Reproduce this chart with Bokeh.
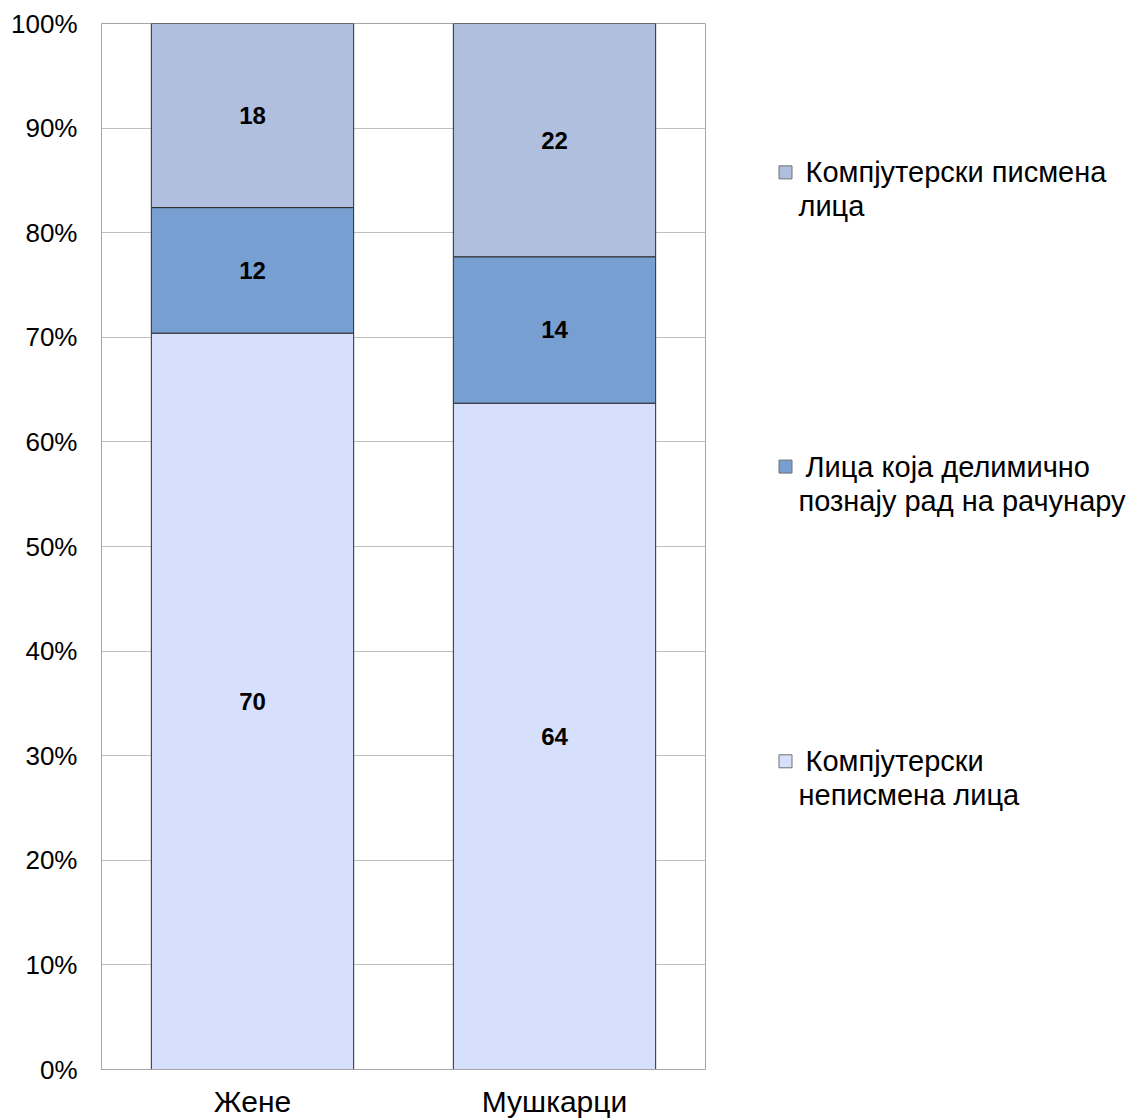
from bokeh.plotting import figure
from bokeh.layouts import row
from bokeh.models import ColumnDataSource, FactorRange, Range1d, FixedTicker, PrintfTickFormatter
from bokeh.core.properties import value
from bokeh.embed import file_html
from bokeh.resources import INLINE

# ---- data ----
categories = ["Жене", "Мушкарци"]
series_keys = ["illiterate", "partial", "literate"]
series_labels = [
    ["Компјутерски", "неписмена лица"],
    ["Лица која делимично", "познају рад на рачунару"],
    ["Компјутерски писмена", "лица"],
]
illiterate = [70.4, 63.7]
partial = [12.0, 14.0]
literate = [17.6, 22.3]
y_ticks = [0, 10, 20, 30, 40, 50, 60, 70, 80, 90, 100]

colors = ["#D6DFFC", "#789FD1", "#B0BFDD"]
FONT = "Liberation Sans"
W, H = 1136, 1120
MAIN_W = 707
TOP, BOTTOM = 23, 50

src = ColumnDataSource(dict(cat=categories, illiterate=illiterate, partial=partial, literate=literate))

p = figure(
    x_range=FactorRange(*categories, range_padding=0),
    y_range=Range1d(0, 100),
    width=MAIN_W, height=H,
    output_backend="svg", toolbar_location=None,
    min_border_left=101, min_border_right=2, min_border_top=TOP, min_border_bottom=BOTTOM,
)
p.background_fill_color = "white"
p.border_fill_color = "white"
p.outline_line_color = "#a6a6a6"

p.vbar_stack(series_keys, x="cat", width=0.67, source=src, color=colors,
             line_color="#2b2b2b", line_width=1)

# segment value labels
lx, ly, lt = [], [], []
for i, c in enumerate(categories):
    base = 0.0
    for arr in (illiterate, partial, literate):
        v = arr[i]
        lx.append(c)
        ly.append(base + v / 2)
        lt.append(f"{v:.0f}")
        base += v
p.text(x=lx, y=ly, text=lt, text_align="center", text_baseline="middle",
       text_font=value(FONT), text_font_size="24px", text_font_style="bold", text_color="black")

# axes
p.yaxis.ticker = FixedTicker(ticks=y_ticks)
p.yaxis.formatter = PrintfTickFormatter(format="%d%%")
p.yaxis.major_label_text_font = FONT
p.yaxis.major_label_text_font_size = "26px"
p.yaxis.major_label_text_color = "black"
p.yaxis.major_label_standoff = 24
p.yaxis.major_tick_out = 0
p.yaxis.major_tick_in = 0
p.yaxis.minor_tick_out = 0
p.yaxis.minor_tick_in = 0
p.yaxis.major_tick_line_color = None
p.yaxis.minor_tick_line_color = None
p.yaxis.axis_line_color = "#a6a6a6"

p.xaxis.major_label_text_font = FONT
p.xaxis.major_label_text_font_size = "30px"
p.xaxis.major_label_text_color = "black"
p.xaxis.major_label_standoff = 15
p.xaxis.major_tick_out = 0
p.xaxis.major_tick_in = 0
p.xaxis.major_tick_line_color = None
p.xaxis.axis_line_color = "#a6a6a6"

p.xgrid.grid_line_color = None
p.ygrid.grid_line_color = "#c0c0c0"
p.ygrid.grid_line_width = 1

# ---- legend panel (separate figure, page-pixel coordinates) ----
leg = figure(width=W - MAIN_W, height=H,
             x_range=Range1d(MAIN_W, W), y_range=Range1d(H - BOTTOM, TOP),
             x_axis_type=None, y_axis_type=None, output_backend="svg",
             toolbar_location=None, min_border_left=0, min_border_right=0,
             min_border_top=TOP, min_border_bottom=BOTTOM)
leg.grid.visible = False
leg.outline_line_color = None
leg.background_fill_color = "white"
leg.border_fill_color = "white"

order = [2, 1, 0]                 # top to bottom: literate, partial, illiterate
item_mid = [172, 466.5, 761.5]    # vertical centre of first text line of each item
mx, my, mc, tx, ty, tt = [], [], [], [], [], []
for ym, si in zip(item_mid, order):
    mx.append(785); my.append(ym); mc.append(colors[si])
    tx += [805, 798]; ty += [ym, ym + 34]; tt += series_labels[si]
leg.rect(x=mx, y=my, width=13, height=13, fill_color=mc, line_color="#707070", line_width=1)
leg.text(x=tx, y=ty, text=tt, text_align="left", text_baseline="middle",
         text_font=value(FONT), text_font_size="29px", text_color="black")

layout = row(p, leg)
open("out.html", "w").write(file_html(layout, INLINE))
